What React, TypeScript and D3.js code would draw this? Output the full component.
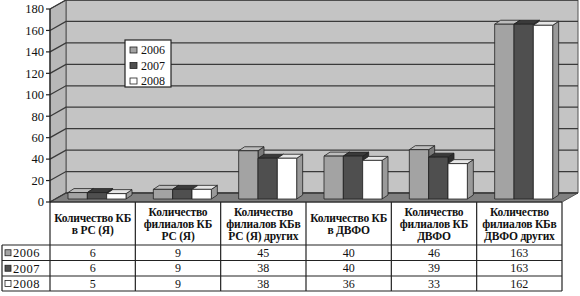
import * as d3 from 'd3'

const categories = [
  ['Количество КБ', 'в РС (Я)'],
  ['Количество', 'филиалов КБ', 'РС (Я)'],
  ['Количество', 'филиалов КБв', 'РС (Я) других'],
  ['Количество КБ', 'в ДВФО'],
  ['Количество', 'филиалов КБ', 'ДВФО'],
  ['Количество', 'филиалов КБв', 'ДВФО других'],
]
const years = ['2006', '2007', '2008']
const values2006 = [6, 9, 45, 40, 46, 163]
const values2007 = [6, 9, 38, 40, 39, 163]
const values2008 = [5, 9, 38, 36, 33, 162]
const yTicks = [0, 20, 40, 60, 80, 100, 120, 140, 160, 180]

const series = [values2006, values2007, values2008]
const faceColors = ['#a3a3a3', '#4f4f4f', '#ffffff']
const sideColors = ['#7a7a7a', '#2e2e2e', '#9a9a9a']
const topColors = ['#bdbdbd', '#3a3a3a', '#e6e6e6']

const W = 580
const H = 296
const font = "'Liberation Serif', 'DejaVu Serif', serif"

export default function App() {
  // wall depth (3d offset)
  const dx = 16
  const dy = -9
  const left = 50
  const right = 562
  const y = d3.scaleLinear().domain([0, 180]).range([202, 9])
  const x = d3
    .scaleBand<number>()
    .domain(d3.range(categories.length))
    .range([left, right])
  const x1 = d3
    .scaleBand<number>()
    .domain(d3.range(years.length))
    .range([12, 70])
  // bars sit a bit into the depth
  const bx = 6
  const by = -3
  const bdx = 6
  const bdy = -4

  const rowTop = 202
  const rows = [245, 260.5, 276, 291]

  return (
    <svg
      width={W}
      height={H}
      style={{ position: 'absolute', left: 0, top: 0, background: '#fff', fontFamily: font }}
    >
      {/* back wall */}
      <polygon
        points={`${left + dx},${y(180) + dy} ${right + dx},${y(180) + dy} ${right + dx},${y(0) + dy} ${left + dx},${y(0) + dy}`}
        fill="#c4c4c4"
        stroke="#555"
        strokeWidth={1}
      />
      {/* side wall */}
      <polygon
        points={`${left},${y(180)} ${left + dx},${y(180) + dy} ${left + dx},${y(0) + dy} ${left},${y(0)}`}
        fill="#b8b8b8"
        stroke="#555"
        strokeWidth={1}
      />
      {/* floor */}
      <polygon
        points={`${left},${y(0)} ${left + dx},${y(0) + dy} ${right + dx},${y(0) + dy} ${right},${y(0)}`}
        fill="#808080"
        stroke="#555"
        strokeWidth={1}
      />
      {/* gridlines */}
      {yTicks.map((t) => (
        <polyline
          key={t}
          points={`${left},${y(t)} ${left + dx},${y(t) + dy} ${right + dx},${y(t) + dy}`}
          fill="none"
          stroke="#3a3a3a"
          strokeWidth={1.3}
        />
      ))}
      {/* bars */}
      {categories.map((_, ci) =>
        series.map((vals, si) => {
          const x0 = (x(ci) as number) + (x1(si) as number) + bx
          const w = x1.bandwidth()
          const yb = y(0) + by
          const yt = y(vals[ci]) + by
          return (
            <g key={`${ci}-${si}`} stroke="#222" strokeWidth={0.8} strokeLinejoin="round">
              <polygon
                points={`${x0 + w},${yt} ${x0 + w + bdx},${yt + bdy} ${x0 + w + bdx},${yb + bdy} ${x0 + w},${yb}`}
                fill={sideColors[si]}
              />
              <polygon
                points={`${x0},${yt} ${x0 + bdx},${yt + bdy} ${x0 + w + bdx},${yt + bdy} ${x0 + w},${yt}`}
                fill={topColors[si]}
              />
              <rect x={x0} y={yt} width={w} height={yb - yt} fill={faceColors[si]} />
            </g>
          )
        })
      )}
      {/* y axis */}
      <line x1={left} x2={left} y1={y(180)} y2={rows[3]} stroke="#222" strokeWidth={1.2} />
      {yTicks.map((t) => (
        <g key={t}>
          <line x1={left - 4} x2={left} y1={y(t)} y2={y(t)} stroke="#222" strokeWidth={1.2} />
          <text x={left - 6} y={y(t)} dy="0.35em" textAnchor="end" fontSize={12.5} fill="#111">
            {t}
          </text>
        </g>
      ))}
      {/* data table */}
      <g stroke="#222" strokeWidth={1.2}>
        <line x1={left} x2={right} y1={rowTop} y2={rowTop} />
        {rows.map((r) => (
          <line key={r} x1={2} x2={right} y1={r} y2={r} />
        ))}
        <line x1={2} x2={2} y1={rows[0]} y2={rows[3]} />
        {categories.map((_, ci) => (
          <line
            key={ci}
            x1={(x(ci) as number) + x.bandwidth()}
            x2={(x(ci) as number) + x.bandwidth()}
            y1={rowTop}
            y2={rows[3]}
          />
        ))}
      </g>
      {categories.map((lines, ci) => {
        const cx = (x(ci) as number) + x.bandwidth() / 2
        const lh = 12
        const mid = (rowTop + rows[0]) / 2
        const start = mid - ((lines.length - 1) * lh) / 2
        return (
          <text key={ci} textAnchor="middle" fontSize={11.5} fill="#111" fontWeight="bold" letterSpacing={-0.2}>
            {lines.map((l, li) => (
              <tspan key={li} x={cx} y={start + li * lh} dy="0.35em">
                {l}
              </tspan>
            ))}
          </text>
        )
      })}
      {years.map((yr, si) => {
        const cy = (rows[si] + rows[si + 1]) / 2
        return (
          <g key={yr}>
            <rect x={5} y={cy - 3} width={6} height={6} fill={faceColors[si]} stroke="#222" strokeWidth={0.8} />
            <text x={13} y={cy} dy="0.35em" fontSize={12.5} fill="#111" letterSpacing={0.5}>
              {yr}
            </text>
            {series[si].map((v, ci) => (
              <text
                key={ci}
                x={(x(ci) as number) + x.bandwidth() / 2}
                y={cy}
                dy="0.35em"
                textAnchor="middle"
                fontSize={12}
                fill="#111"
              >
                {v}
              </text>
            ))}
          </g>
        )
      })}
      {/* legend */}
      <rect x={125} y={40} width={46} height={47} fill="#fff" stroke="#222" strokeWidth={1.2} />
      {years.map((yr, si) => (
        <g key={yr} transform={`translate(130, ${50 + si * 15.5})`}>
          <rect x={0} y={-3} width={7} height={6} fill={faceColors[si]} stroke="#222" strokeWidth={0.8} />
          <text x={11} y={0} dy="0.35em" fontSize={12} fill="#111">
            {yr}
          </text>
        </g>
      ))}
    </svg>
  )
}
